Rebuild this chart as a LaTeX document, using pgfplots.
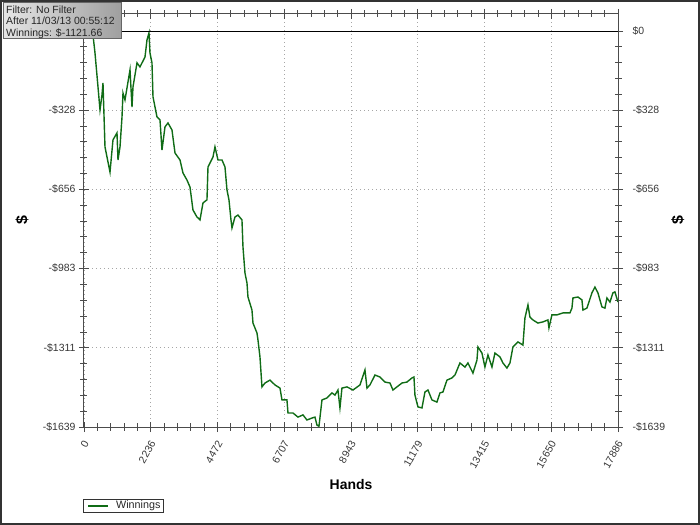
\documentclass[border=0pt]{standalone}
\usepackage{pgfplots}
\pgfplotsset{compat=1.18}
\usepackage{fontspec}
\setmainfont{Liberation Sans}
\definecolor{wgreen}{RGB}{16,108,22}
\definecolor{tickgray}{RGB}{55,55,55}
\begin{document}
\begin{tikzpicture}
\begin{axis}[name=ax, scale only axis, width=534bp, height=413bp,
 xmin=0, xmax=17886, ymin=-1639, ymax=70,
 xtick={0,2236,4472,6707,8943,11179,13415,15650,17886},
 xticklabels={0,2236,4472,6707,8943,11179,13415,15650,17886},
 scaled x ticks=false,
 minor xtick={447,894,1341,1789,2683,3130,3577,4025,4919,5366,5813,6260,7154,7601,8048,8496,9390,9837,10284,10732,11626,12073,12520,12967,13861,14309,14756,15203,16097,16544,16992,17439},
 ytick={-1639,-1311,-983,-656,-328,0},
 yticklabels={-\$1639,-\$1311,-\$983,-\$656,-\$328,},
 minor ytick={-65.6,-131.1,-196.7,-262.2,-393.4,-459,-524.5,-590,-721.2,-786.7,-852.3,-917.8,-1049,-1114.6,-1180.1,-1245.6,-1376.8,-1442.3,-1507.9,-1573.4},
 tick align=center, tick pos=both,
 major tick length=10bp, minor tick length=7bp,
 every tick/.style={black!70, line width=0.8bp},
 axis line style={black!70, line width=1bp},
 grid=major, major grid style={gray!70, line width=0.8bp, dash pattern=on 1bp off 3bp},
 minor grid style={draw=none},
 xticklabel style={xshift=4bp, yshift=-7bp, rotate=60, anchor=east, font=\fontsize{10.5}{11}\selectfont, text=tickgray},
 yticklabel style={font=\fontsize{10.5}{11}\selectfont, text=tickgray},
 xlabel={\textbf{Hands}},
 xlabel style={at={(rel axis cs:0.5,-0.140)}, anchor=center, font=\fontsize{14}{15}\selectfont},
 ylabel={\textbf{\$}},
 ylabel style={at={(rel axis cs:-0.116,0.5)}, anchor=center, rotate=0, font=\fontsize{16}{17}\selectfont},
]
\addplot[wgreen, line width=1.4bp] coordinates {
(0,0) (201,0) (301,-17) (368,-91) (469,-232) (536,-327) (603,-265) (636,-215)
(703,-480) (871,-584) (971,-451) (1105,-422) (1139,-534) (1206,-480) (1273,-356)
(1306,-257) (1373,-286) (1541,-161) (1608,-315) (1641,-232) (1775,-132) (1875,-149)
(2043,-108) (2110,-37) (2177,-8) (2210,-91) (2277,-132) (2311,-273) (2445,-356)
(2545,-368) (2612,-493) (2713,-397) (2813,-381) (2947,-410) (3048,-505) (3215,-534)
(3316,-588) (3449,-617) (3550,-646) (3650,-741) (3784,-770) (3885,-782) (3985,-712)
(4119,-699) (4153,-563) (4320,-522) (4387,-480) (4488,-534) (4622,-534) (4722,-563)
(4789,-658) (4856,-699) (4923,-782) (4957,-815) (5057,-770) (5157,-762) (5291,-782)
(5325,-894) (5392,-1002) (5459,-1043) (5492,-1101) (5626,-1155) (5660,-1209)
(5794,-1250) (5827,-1279) (5894,-1349) (5961,-1473) (6062,-1457) (6229,-1445)
(6397,-1465) (6564,-1478) (6631,-1527) (6798,-1527) (6832,-1581) (6999,-1581)
(7167,-1598) (7334,-1589) (7468,-1610) (7636,-1602) (7736,-1598) (7803,-1631)
(7870,-1636) (7971,-1527) (8138,-1519) (8306,-1498) (8406,-1507) (8506,-1486)
(8573,-1560) (8640,-1478) (8808,-1473) (9009,-1486) (9243,-1465) (9411,-1403)
(9478,-1478) (9578,-1465) (9746,-1424) (9913,-1432) (10080,-1453) (10248,-1457)
(10348,-1486) (10482,-1473) (10650,-1457) (10817,-1453) (10985,-1436) (11052,-1432)
(11085,-1507) (11186,-1556) (11320,-1560) (11420,-1494) (11521,-1486) (11655,-1527)
(11822,-1536) (11922,-1498) (12023,-1494) (12157,-1445) (12324,-1436) (12425,-1424)
(12592,-1374) (12760,-1391) (12860,-1374) (13028,-1416) (13162,-1362) (13195,-1308)
(13329,-1333) (13429,-1391) (13530,-1341) (13664,-1391) (13764,-1333) (13932,-1349)
(14032,-1374) (14166,-1395) (14267,-1374) (14367,-1308) (14535,-1287) (14702,-1300)
(14769,-1188) (14870,-1134) (14937,-1184) (15037,-1196) (15204,-1209) (15372,-1204)
(15539,-1196) (15573,-1229) (15673,-1175) (15841,-1175) (16042,-1167) (16276,-1167)
(16343,-1147) (16377,-1105) (16544,-1101) (16678,-1113) (16712,-1155) (16845,-1147)
(17013,-1084) (17113,-1060) (17214,-1084) (17348,-1142) (17448,-1147) (17515,-1105)
(17616,-1122) (17716,-1084) (17783,-1080) (17886,-1122)
};
\addplot[black, line width=0.8bp, forget plot] coordinates {(0,0) (17886,0)};
\end{axis}
\begin{axis}[scale only axis, width=534bp, height=413bp,
 xmin=0, xmax=17886, ymin=-1639, ymax=70,
 axis x line=none, axis y line*=right,
 y axis line style={draw=none},
 ytick={-1639,-1311,-983,-656,-328,0},
 yticklabels={-\$1639,-\$1311,-\$983,-\$656,-\$328,\$0},
 ytick style={draw=none}, minor y tick num=0,
 yticklabel style={font=\fontsize{10.5}{11}\selectfont, text=tickgray, xshift=11bp},
 ylabel={\textbf{\$}},
 ylabel style={at={(rel axis cs:1.112,0.5)}, anchor=center, rotate=0, font=\fontsize{16}{17}\selectfont},
]
\end{axis}
% legend
\draw[black!80, line width=0.8bp] ([xshift=-1bp,yshift=-72bp]ax.south west) rectangle ([xshift=79bp,yshift=-85bp]ax.south west);
\fill[fill={rgb,255:red,16;green,108;blue,22}] ([xshift=4bp,yshift=-77.5bp]ax.south west) rectangle ([xshift=24bp,yshift=-79.5bp]ax.south west);
\node[anchor=west, font=\fontsize{10.8}{11}\selectfont, text=black!85, inner sep=0pt] at ([xshift=32bp,yshift=-78.5bp]ax.south west) {Winnings};
% info box
\shade[left color=gray!20, right color=gray!75, draw=black!60, line width=0.8bp]
 ([xshift=-81bp,yshift=12bp]ax.north west) rectangle ([xshift=37bp,yshift=-24bp]ax.north west);
\node[anchor=north west, align=left, font=\fontsize{10.5}{11.2}\selectfont, text=black!85, inner sep=0pt]
 at ([xshift=-78bp,yshift=8bp]ax.north west) {Filter: No Filter\\After 11/03/13 00:55:12\\Winnings: \$-1121.66};
\pgfresetboundingbox
\path[use as bounding box] ([xshift=-84bp,yshift=-98bp]ax.south west) rectangle ([xshift=82bp,yshift=14bp]ax.north east);
\draw[black!80, line width=2bp] ([xshift=-83bp,yshift=-97bp]ax.south west) rectangle ([xshift=81bp,yshift=13bp]ax.north east);
\end{tikzpicture}
\end{document}
